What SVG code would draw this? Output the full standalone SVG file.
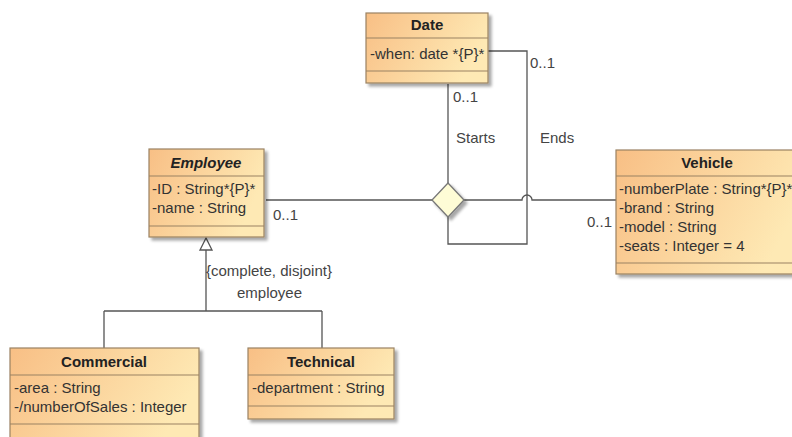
<svg xmlns="http://www.w3.org/2000/svg" width="792" height="437" viewBox="0 0 792 437">
  <defs>
    <linearGradient id="cls" x1="0" y1="0" x2="1" y2="0.35">
      <stop offset="0" stop-color="#f8bf85"/>
      <stop offset="1" stop-color="#fee9b4"/>
    </linearGradient>
    <filter id="shadow" x="-10%" y="-10%" width="130%" height="130%">
      <feGaussianBlur in="SourceAlpha" stdDeviation="1.5"/>
      <feOffset dx="3" dy="3"/>
      <feComponentTransfer><feFuncA type="linear" slope="0.35"/></feComponentTransfer>
      <feMerge><feMergeNode/><feMergeNode in="SourceGraphic"/></feMerge>
    </filter>
  </defs>
  <style>
    .box { fill: url(#cls); stroke: #9a8262; stroke-width: 1.2; filter: url(#shadow); }
    .sep { stroke: #9a8262; stroke-width: 1.2; }
    .title { font-family: "Liberation Sans", Arial, sans-serif; font-size: 15px; font-weight: bold; fill: #222; text-anchor: middle; }
    .attr { font-family: "Liberation Sans", Arial, sans-serif; font-size: 15px; fill: #333; }
    .lbl { font-family: "Liberation Sans", Arial, sans-serif; font-size: 15px; fill: #444; }
    .line { fill: none; stroke: #555; stroke-width: 1.3; }
  </style>
  <rect width="792" height="437" fill="#ffffff"/>

  <!-- connectors -->
  <g id="connectors">
    <!-- Employee to n-ary association -->
    <path class="line" d="M266,200 H433"/>
    <!-- association to Vehicle, with hop over the Ends line -->
    <path class="line" d="M464,200 H522 A5,5 0 0 1 532,200 H617"/>
    <!-- Starts: Date to association -->
    <path class="line" d="M448,84 V183"/>
    <!-- Ends: Date to association -->
    <path class="line" d="M488,51 H527 V244 H448 V217"/>
    <!-- generalization -->
    <path class="line" d="M206,250 V311 M104,311 H322 M104,311 V348 M322,311 V348"/>
    <polygon points="206,238 200,250 212,250" fill="#fff" stroke="#555" stroke-width="1.3"/>
    <!-- association diamond -->
    <polygon points="448,183 464,200 448,217 432,200" fill="#fefcd6" stroke="#777" stroke-width="1.3" filter="url(#shadow)"/>
    <text class="lbl" x="453" y="102">0..1</text>
    <text class="lbl" x="530" y="68">0..1</text>
    <text class="lbl" x="456" y="143">Starts</text>
    <text class="lbl" x="540" y="143">Ends</text>
    <text class="lbl" x="587" y="227">0..1</text>
    <text class="lbl" x="273" y="220">0..1</text>
    <text class="lbl" x="206" y="276">{complete, disjoint}</text>
    <text class="lbl" x="237" y="298">employee</text>
  </g>

  <!-- Date -->
  <g id="Date">
    <rect class="box" x="366" y="13" width="122" height="70"/>
    <line class="sep" x1="366" y1="38" x2="488" y2="38"/>
    <line class="sep" x1="366" y1="71" x2="488" y2="71"/>
    <text class="title" x="427" y="30">Date</text>
    <text class="attr" x="370" y="59">-when: date *{P}*</text>
  </g>

  <!-- Employee -->
  <g id="Employee">
    <rect class="box" x="149" y="149" width="115" height="88"/>
    <line class="sep" x1="149" y1="176" x2="264" y2="176"/>
    <line class="sep" x1="149" y1="226" x2="264" y2="226"/>
    <text class="title" x="206" y="168" font-style="italic">Employee</text>
    <text class="attr" x="152" y="194">-ID : String*{P}*</text>
    <text class="attr" x="152" y="213">-name : String</text>
  </g>

  <!-- Vehicle -->
  <g id="Vehicle">
    <rect class="box" x="616" y="150" width="190" height="124"/>
    <line class="sep" x1="616" y1="176" x2="806" y2="176"/>
    <line class="sep" x1="616" y1="263" x2="806" y2="263"/>
    <text class="title" x="707" y="168">Vehicle</text>
    <text class="attr" x="619" y="194">-numberPlate : String*{P}*</text>
    <text class="attr" x="619" y="213">-brand : String</text>
    <text class="attr" x="619" y="232">-model : String</text>
    <text class="attr" x="619" y="251">-seats : Integer = 4</text>
  </g>

  <!-- Commercial -->
  <g id="Commercial">
    <rect class="box" x="10" y="348" width="189" height="100"/>
    <line class="sep" x1="10" y1="375" x2="199" y2="375"/>
    <line class="sep" x1="10" y1="424" x2="199" y2="424"/>
    <text class="title" x="104" y="367">Commercial</text>
    <text class="attr" x="14" y="393">-area : String</text>
    <text class="attr" x="14" y="412">-/numberOfSales : Integer</text>
  </g>

  <!-- Technical -->
  <g id="Technical">
    <rect class="box" x="248" y="348" width="146" height="71"/>
    <line class="sep" x1="248" y1="375" x2="394" y2="375"/>
    <line class="sep" x1="248" y1="406" x2="394" y2="406"/>
    <text class="title" x="321" y="367">Technical</text>
    <text class="attr" x="252" y="393">-department : String</text>
  </g>
</svg>
